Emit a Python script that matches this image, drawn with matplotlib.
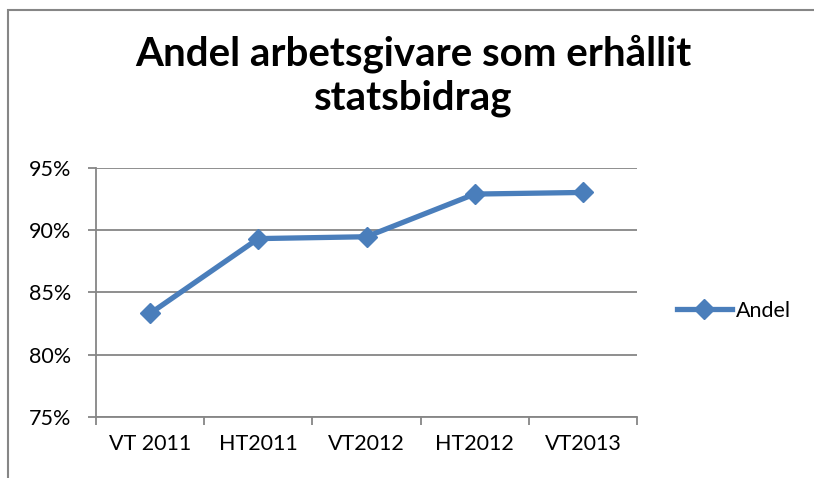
import matplotlib.pyplot as plt
from matplotlib.lines import Line2D
from matplotlib.patches import Rectangle
from matplotlib.ticker import FuncFormatter, FixedLocator

# data
periods = ["VT 2011", "HT2011", "VT2012", "HT2012", "VT2013"]
andel = [0.833, 0.893, 0.8945, 0.9287, 0.930]
y_ticks = [0.75, 0.80, 0.85, 0.90, 0.95]

title = "Andel arbetsgivare som erhållit\nstatsbidrag"
series_name = "Andel"

blue = "#4A7EBB"
grey = "#868686"
font = "Lato"
label_size = 15.5

W, H = 814, 478
fig = plt.figure(figsize=(W / 100, H / 100), dpi=100)

# outer chart frame (runs off the right and bottom edge)
frame = Rectangle((8 / W, -0.05), 1.2, 1 - 10 / H + 0.05, transform=fig.transFigure,
                  fill=False, edgecolor=grey, linewidth=1.5)
fig.patches.append(frame)

fig.text(413 / W, 1 - 76 / H, title, ha="center", va="center", fontsize=29,
         fontweight="bold", family=font, linespacing=1.22)

left, right = 96 / W, 637 / W
bottom, top = 1 - 417 / H, 1 - 167.5 / H
ax = fig.add_axes([left, bottom, right - left, top - bottom])

x = list(range(len(periods)))
ax.plot(x, andel, color=blue, linewidth=3.8, marker="D", markersize=10,
        markeredgecolor=blue, markerfacecolor=blue, solid_capstyle="round")

ax.set_xlim(-0.5, len(periods) - 0.5)
ax.set_ylim(0.75, 0.95)
ax.yaxis.set_major_locator(FixedLocator(y_ticks))
ax.yaxis.set_major_formatter(FuncFormatter(lambda v, _: f"{v * 100:.0f}%"))
ax.set_xticks(x)
ax.set_xticklabels(periods)
ax.xaxis.set_minor_locator(FixedLocator([i - 0.5 for i in range(len(periods) + 1)]))

ax.grid(True, axis="y", color=grey, linewidth=1.3)
ax.set_axisbelow(True)
for side in ["top", "right"]:
    ax.spines[side].set_visible(False)
for side in ["left", "bottom"]:
    ax.spines[side].set_color(grey)
    ax.spines[side].set_linewidth(1.3)

ax.tick_params(axis="x", which="major", length=0, pad=12, labelsize=label_size)
ax.tick_params(axis="x", which="minor", length=6, width=1.3, color=grey, direction="out")
ax.tick_params(axis="y", length=6, width=1.3, color=grey, pad=12, labelsize=label_size)
for lbl in ax.get_xticklabels() + ax.get_yticklabels():
    lbl.set_family(font)

handle = Line2D([], [], color=blue, linewidth=3.8, marker="D", markersize=10)
fig.legend([handle], [series_name], loc="center left", bbox_to_anchor=(677 / W, 1 - 311 / H),
           frameon=False, borderpad=0, borderaxespad=0, handlelength=2.55,
           handletextpad=0.2, prop={"family": font, "size": label_size})

fig.savefig("out.png", dpi=100)
